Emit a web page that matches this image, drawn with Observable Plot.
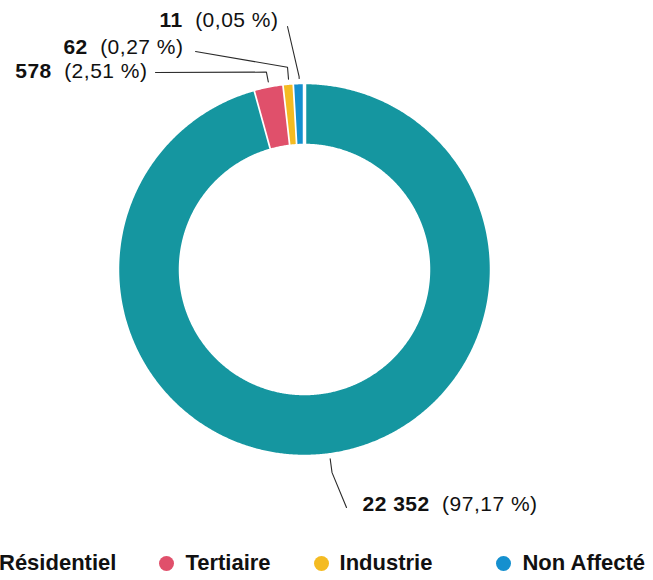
<!DOCTYPE html>
<html><head><meta charset="utf-8">
<script src="https://cdn.jsdelivr.net/npm/d3@7"></script>
<script src="https://cdn.jsdelivr.net/npm/@observablehq/plot@0.6"></script>
<style>
body{margin:0;background:#fff;}
#wrap{position:relative;width:653px;height:580px;overflow:hidden;font-family:"Liberation Sans",Arial,sans-serif;}
#chart{position:absolute;left:0;top:0;}
#legend{position:absolute;top:550px;left:-27px;display:flex;white-space:nowrap;font-weight:bold;font-size:22px;color:#111;line-height:26px;}
.item{display:flex;align-items:center;margin-right:43px}
.dot{width:15px;height:15px;border-radius:50%;margin-right:11px;flex:none}
</style></head><body><div id="wrap"><div id="chart"></div><div id="legend"></div></div>
<script>
// ---- data ----
const categories = ["Résidentiel", "Tertiaire", "Industrie", "Non Affecté"];
const counts = [22352, 578, 62, 11];
const countLabels = ["22 352", "578", "62", "11"];
const percentLabels = ["(97,17 %)", "(2,51 %)", "(0,27 %)", "(0,05 %)"];
const colors = ["#1596a0", "#e0506b", "#f4bb22", "#1590cf"];

// ---- layout (pixels of the 653-wide picture, converted to donut units) ----
const W = 653, H = 530;
const CX = 304, CY = 269, R = 187;       // donut centre and outer radius in px
const INNER = 124 / R;                    // inner radius ratio
const MIN_ANGLE = 3.2 * Math.PI / 180;    // smallest visible slice
const toU = (px, py) => [(px - CX) / R, (CY - py) / R];
// label text anchor, line end, radial elbow length (px)
const labelLayout = [
  {text: [362, 504], anchor: "start", end: [346, 507], elbow: 14},
  {text: [147, 71],  anchor: "end",   end: [155, 72],  elbow: 10},
  {text: [183, 47],  anchor: "end",   end: [195, 51],  elbow: 12},
  {text: [278, 20],  anchor: "end",   end: [287, 26],  elbow: 2}
];
const legendGaps = [43, 43, 64, 0];

// ---- slice angles (clockwise from 12 o'clock) ----
const total = d3.sum(counts);
let angles = counts.map(c => Math.max(c / total * 2 * Math.PI, MIN_ANGLE));
const excess = d3.sum(angles) - 2 * Math.PI;
const big = d3.maxIndex(angles);
angles[big] -= excess;
let acc = 0;
const slices = categories.map((cat, i) => {
  const a0 = acc; acc += angles[i];
  return {cat, a0, a1: acc, mid: (a0 + acc) / 2};
});

const pt = (r, a) => ({x: r * Math.sin(a), y: r * Math.cos(a)});
const ringPoints = [];
for (const s of slices) {
  const n = Math.max(2, Math.ceil((s.a1 - s.a0) / (0.4 * Math.PI / 180)));
  for (let k = 0; k <= n; k++) ringPoints.push({cat: s.cat, ...pt(1, s.a0 + (s.a1 - s.a0) * k / n)});
  for (let k = n; k >= 0; k--) ringPoints.push({cat: s.cat, ...pt(INNER, s.a0 + (s.a1 - s.a0) * k / n)});
}

const leaderPoints = [];
const labels = [];
slices.forEach((s, i) => {
  const L = labelLayout[i];
  const r0 = 1 + 4 / R;
  leaderPoints.push({cat: s.cat, ...pt(r0, s.mid)});
  leaderPoints.push({cat: s.cat, ...pt(r0 + L.elbow / R, s.mid)});
  const [ex, ey] = toU(...L.end);
  leaderPoints.push({cat: s.cat, x: ex, y: ey});
  const [tx, ty] = toU(...L.text);
  labels.push({cat: s.cat, x: tx, y: ty, anchor: L.anchor,
               label: countLabels[i] + " " + percentLabels[i]});
});

const [x0, y0] = toU(0, H);
const [x1, y1] = toU(W, 0);

const plot = Plot.plot({
  width: W, height: H, margin: 0,
  x: {domain: [x0, x1], axis: null},
  y: {domain: [y0, y1], axis: null},
  color: {domain: categories, range: colors},
  style: {fontFamily: "Liberation Sans, Arial, sans-serif", background: "#fff"},
  marks: [
    Plot.line(ringPoints, {x: "x", y: "y", z: "cat", fill: "cat", stroke: "white", strokeWidth: 3.5, curve: "linear"}),
    Plot.line(leaderPoints, {x: "x", y: "y", z: "cat", stroke: "#2a2a2a", strokeWidth: 1.1, curve: "linear"}),
    Plot.text(labels.filter(d => d.anchor === "end"), {x: "x", y: "y", text: "label", textAnchor: "end", fontSize: 21, fill: "#111"}),
    Plot.text(labels.filter(d => d.anchor === "start"), {x: "x", y: "y", text: "label", textAnchor: "start", fontSize: 21, fill: "#111"})
  ]
});
// bold count, regular percentage
d3.select(plot).selectAll("text").each(function() {
  const t = this.textContent;
  const j = t.indexOf(" (");
  if (j < 0) return;
  const sel = d3.select(this).attr("letter-spacing", 0.5);
  sel.text(null);
  sel.append("tspan").attr("font-weight", "bold").text(t.slice(0, j));
  sel.append("tspan").attr("dx", 6).text(t.slice(j));
});
document.getElementById("chart").appendChild(plot);

// legend
const leg = d3.select("#legend");
categories.forEach((c, i) => {
  const it = leg.append("div").attr("class", "item").style("margin-right", legendGaps[i] + "px");
  it.append("div").attr("class", "dot").style("background", colors[i]);
  it.append("span").text(c);
});
</script></body></html>
